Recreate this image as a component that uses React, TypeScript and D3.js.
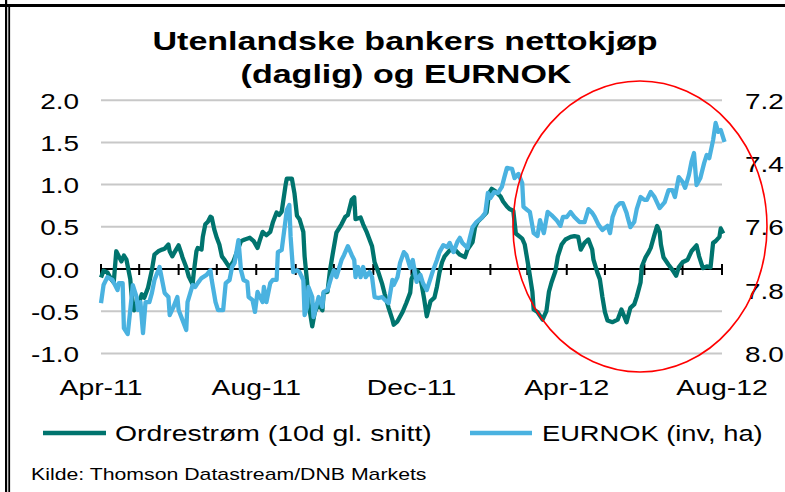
import React from 'react';
import * as d3 from 'd3';

// days counted from 1 Apr 2011
const START = new Date(2011, 3, 1);
const END = new Date(2012, 7, 1);

// Ordrestrøm, 10d glidende snitt (venstre akse)
const ordreDays = [0, 2, 5, 8, 10, 12, 13, 16, 18, 20, 23, 24, 26, 28, 30, 32, 34, 37, 40, 42, 45, 48, 50, 53, 54, 56, 59, 61, 63, 64, 67, 69, 72, 73, 75, 76, 79, 80, 82, 84, 86, 87, 89, 91, 93, 95, 97, 100, 101, 104, 110, 113, 117, 120, 123, 125, 127, 130, 133, 135, 138, 140, 142, 145, 146, 150, 152, 154, 156, 159, 160, 162, 163, 166, 168, 171, 174, 175, 178, 180, 182, 185, 189, 192, 194, 197, 199, 200, 204, 206, 209, 211, 213, 215, 218, 221, 223, 226, 229, 230, 233, 237, 240, 243, 244, 247, 249, 251, 254, 256, 259, 262, 264, 266, 268, 270, 274, 278, 282, 286, 288, 292, 294, 296, 300, 303, 305, 307, 310, 314, 316, 319, 321, 324, 326, 331, 333, 336, 339, 340, 343, 347, 350, 352, 354, 357, 359, 362, 365, 369, 372, 375, 377, 380, 383, 386, 387, 390, 392, 394, 396, 398, 402, 406, 409, 413, 416, 419, 421, 424, 425, 428, 430, 432, 435, 437, 439, 440, 442, 446, 449, 452, 454, 457, 461, 464, 468, 470, 473, 476, 479, 481, 483, 486, 487, 489];
const ordreValues = [-0.10, -0.02, -0.04, -0.12, -0.16, 0.21, 0.18, 0.09, 0.16, 0.11, -0.12, -0.30, -0.49, -0.43, -0.40, -0.30, -0.34, -0.22, -0.01, 0.17, 0.21, 0.23, 0.24, 0.29, 0.21, 0.15, 0.23, 0.28, 0.19, 0.14, 0.02, -0.09, -0.18, -0.03, 0.21, 0.25, 0.23, 0.38, 0.53, 0.56, 0.62, 0.61, 0.47, 0.37, 0.29, 0.15, 0.11, 0.04, 0.02, 0.09, 0.33, 0.35, 0.37, 0.33, 0.25, 0.35, 0.44, 0.40, 0.44, 0.55, 0.67, 0.64, 0.68, 0.99, 1.07, 1.07, 0.90, 0.63, 0.59, 0.44, 0.15, -0.16, -0.40, -0.68, -0.51, -0.42, -0.49, -0.28, -0.27, -0.01, 0.17, 0.43, 0.53, 0.62, 0.64, 0.82, 0.85, 0.59, 0.61, 0.53, 0.43, 0.35, 0.27, 0.08, -0.04, -0.18, -0.30, -0.46, -0.60, -0.66, -0.62, -0.51, -0.40, -0.28, -0.12, -0.01, -0.03, -0.10, -0.36, -0.56, -0.38, -0.34, -0.21, -0.04, 0.08, 0.15, 0.22, 0.23, 0.17, 0.14, 0.23, 0.32, 0.50, 0.56, 0.62, 0.67, 0.90, 0.95, 0.92, 0.86, 0.80, 0.74, 0.71, 0.69, 0.42, 0.36, 0.29, 0.02, -0.27, -0.48, -0.51, -0.60, -0.50, -0.27, -0.16, -0.03, 0.15, 0.29, 0.35, 0.38, 0.39, 0.38, 0.23, 0.31, 0.35, 0.23, 0.11, -0.04, -0.12, -0.33, -0.51, -0.61, -0.63, -0.60, -0.48, -0.63, -0.46, -0.42, -0.33, -0.16, 0.03, 0.14, 0.19, 0.25, 0.41, 0.51, 0.44, 0.29, 0.14, 0.05, -0.01, -0.08, 0.02, 0.08, 0.11, 0.21, 0.28, 0.15, 0.01, 0.03, 0.02, 0.31, 0.33, 0.38, 0.48, 0.42];

// EURNOK (invertert, høyre akse)
const eurnokDays = [0, 2, 5, 9, 13, 14, 17, 18, 21, 23, 25, 28, 29, 31, 33, 35, 38, 40, 42, 46, 48, 50, 53, 54, 57, 60, 61, 64, 67, 68, 72, 74, 76, 79, 83, 86, 87, 90, 92, 96, 98, 101, 103, 105, 108, 110, 112, 115, 116, 119, 121, 123, 127, 128, 130, 133, 135, 138, 139, 142, 145, 146, 148, 149, 151, 154, 156, 159, 160, 162, 163, 166, 167, 170, 171, 174, 175, 178, 181, 183, 185, 189, 191, 194, 197, 199, 200, 202, 204, 206, 208, 211, 213, 215, 218, 221, 223, 226, 229, 230, 233, 235, 238, 240, 243, 245, 248, 251, 253, 256, 259, 261, 264, 266, 269, 272, 274, 277, 280, 282, 284, 288, 290, 292, 295, 299, 302, 304, 306, 309, 312, 315, 317, 319, 323, 325, 328, 331, 332, 335, 337, 340, 343, 345, 346, 348, 351, 354, 358, 361, 363, 366, 369, 372, 376, 380, 383, 386, 388, 391, 394, 398, 400, 402, 405, 408, 410, 413, 414, 416, 419, 421, 424, 427, 429, 432, 435, 439, 443, 446, 449, 451, 454, 457, 459, 462, 464, 466, 468, 471, 474, 476, 478, 481, 483, 485, 487, 490];
const eurnokValues = [7.841, 7.784, 7.759, 7.768, 7.800, 7.778, 7.778, 7.920, 7.939, 7.863, 7.784, 7.822, 7.863, 7.838, 7.936, 7.838, 7.838, 7.809, 7.768, 7.727, 7.768, 7.809, 7.822, 7.879, 7.853, 7.822, 7.863, 7.894, 7.926, 7.838, 7.784, 7.790, 7.778, 7.762, 7.752, 7.737, 7.768, 7.838, 7.863, 7.863, 7.778, 7.768, 7.727, 7.714, 7.642, 7.737, 7.768, 7.774, 7.822, 7.831, 7.869, 7.806, 7.838, 7.790, 7.838, 7.778, 7.768, 7.768, 7.680, 7.673, 7.579, 7.547, 7.531, 7.632, 7.743, 7.737, 7.743, 7.768, 7.879, 7.853, 7.790, 7.822, 7.885, 7.838, 7.822, 7.853, 7.806, 7.800, 7.759, 7.737, 7.759, 7.705, 7.689, 7.661, 7.689, 7.705, 7.759, 7.727, 7.759, 7.727, 7.759, 7.743, 7.759, 7.822, 7.825, 7.822, 7.831, 7.841, 7.768, 7.784, 7.759, 7.714, 7.680, 7.689, 7.730, 7.705, 7.774, 7.752, 7.778, 7.800, 7.762, 7.737, 7.705, 7.680, 7.658, 7.664, 7.651, 7.680, 7.648, 7.635, 7.651, 7.667, 7.632, 7.601, 7.585, 7.572, 7.556, 7.493, 7.509, 7.490, 7.493, 7.474, 7.443, 7.414, 7.417, 7.446, 7.433, 7.462, 7.537, 7.547, 7.553, 7.620, 7.629, 7.579, 7.594, 7.620, 7.553, 7.563, 7.579, 7.597, 7.569, 7.569, 7.553, 7.569, 7.585, 7.585, 7.544, 7.556, 7.569, 7.594, 7.610, 7.597, 7.620, 7.569, 7.537, 7.525, 7.525, 7.556, 7.572, 7.601, 7.585, 7.544, 7.506, 7.515, 7.515, 7.490, 7.506, 7.541, 7.522, 7.484, 7.484, 7.506, 7.443, 7.458, 7.477, 7.436, 7.395, 7.367, 7.468, 7.446, 7.398, 7.373, 7.383, 7.326, 7.272, 7.300, 7.294, 7.332];

const leftTicks = [2.0, 1.5, 1.0, 0.5, 0.0, -0.5, -1.0];
const rightTicks = [7.2, 7.4, 7.6, 7.8, 8.0];
const xLabels = ['Apr-11', 'Aug-11', 'Dec-11', 'Apr-12', 'Aug-12'];

const TEAL = '#00746e';
const BLUE = '#4ab2e0';
const FONT = '"Liberation Sans", Arial, sans-serif';

const Label = ({ x, y, sx = 1.29, size = 22, anchor = 'start', weight = 'normal', children }) => (
  <text
    transform={`translate(${x},${y}) scale(${sx},1)`}
    textAnchor={anchor}
    fontSize={size}
    fontWeight={weight}
    fontFamily={FONT}
    fill="#000"
  >
    {children}
  </text>
);

const App = () => {
  const width = 785;
  const height = 492;

  const x = d3.scaleTime().domain([START, END]).range([101, 722]);
  const yL = d3.scaleLinear().domain([-1, 2]).range([353.4, 100.2]);
  const yR = d3.scaleLinear().domain([7.2, 8.0]).range([100.2, 353.4]);

  const day = (d) => d3.timeDay.offset(START, d);

  const ordreLine = d3.line()
    .x((d, i) => x(day(ordreDays[i])))
    .y((d) => yL(d));
  const eurnokLine = d3.line()
    .x((d, i) => x(day(eurnokDays[i])))
    .y((d) => yR(d));

  const months = d3.timeMonth.range(START, d3.timeMonth.offset(END, 1));
  // Excel style: plain hyphen for negatives
  const fmt = (v) => v.toFixed(1);

  return (
    <svg
      width={width}
      height={height}
      style={{ position: 'absolute', left: 0, top: 0, background: '#fff' }}
    >
      <rect x={0} y={0} width={width} height={height} fill="#fff" />

      {/* frame */}
      <rect x={5} y={0} width={2.2} height={height} fill="#000" />
      <rect x={8.3} y={4} width={1.8} height={height - 4} fill="#000" />
      <rect x={0} y={4} width={width} height={3} fill="#000" />

      {/* title */}
      <Label x={405} y={50} size={26} sx={1.31} anchor="middle" weight="bold">Utenlandske bankers nettokjøp</Label>
      <Label x={406} y={83} size={26} sx={1.31} anchor="middle" weight="bold">(daglig) og EURNOK</Label>

      {/* gridlines */}
      {leftTicks.filter((t) => t !== 0).map((t) => (
        <line key={t} x1={101} x2={722} y1={yL(t)} y2={yL(t)} stroke="#c8c8c8" strokeWidth={2} />
      ))}

      {/* left axis labels */}
      {leftTicks.map((t) => (
        <Label key={t} x={79} y={yL(t) + 8.5} anchor="end" sx={1.27}>{fmt(t)}</Label>
      ))}

      {/* right axis labels */}
      {rightTicks.map((t) => (
        <Label key={t} x={745} y={yR(t) + 8.5} sx={1.27}>{fmt(t)}</Label>
      ))}

      {/* zero axis with monthly ticks */}
      <line x1={101} x2={722} y1={yL(0)} y2={yL(0)} stroke="#000" strokeWidth={2} />
      {months.map((m) => (
        <line key={+m} x1={x(m)} x2={x(m)} y1={yL(0) - 5} y2={yL(0) + 6} stroke="#000" strokeWidth={2} />
      ))}

      {/* x labels every 4th month */}
      {months.filter((m, i) => i % 4 === 0).map((m, i) => (
        <Label key={+m} x={x(m)} y={395} anchor="middle">{xLabels[i]}</Label>
      ))}

      {/* series */}
      <path d={ordreLine(ordreValues)} fill="none" stroke={TEAL} strokeWidth={4.3} strokeLinejoin="round" />
      <path d={eurnokLine(eurnokValues)} fill="none" stroke={BLUE} strokeWidth={4.3} strokeLinejoin="round" />

      {/* red highlight ellipse */}
      <ellipse cx={640} cy={226.5} rx={127} ry={145.5} fill="none" stroke="#ff0000" strokeWidth={1.6} />

      {/* legend */}
      <line x1={43} x2={106} y1={433} y2={433} stroke={TEAL} strokeWidth={4.5} />
      <Label x={115} y={441}>Ordrestrøm (10d gl. snitt)</Label>
      <line x1={470} x2={532} y1={433} y2={433} stroke={BLUE} strokeWidth={4.5} />
      <Label x={542} y={441} sx={1.24}>EURNOK (inv, ha)</Label>

      {/* source */}
      <Label x={31} y={480} size={16} sx={1.33}>Kilde: Thomson Datastream/DNB Markets</Label>
    </svg>
  );
};

export default App;
